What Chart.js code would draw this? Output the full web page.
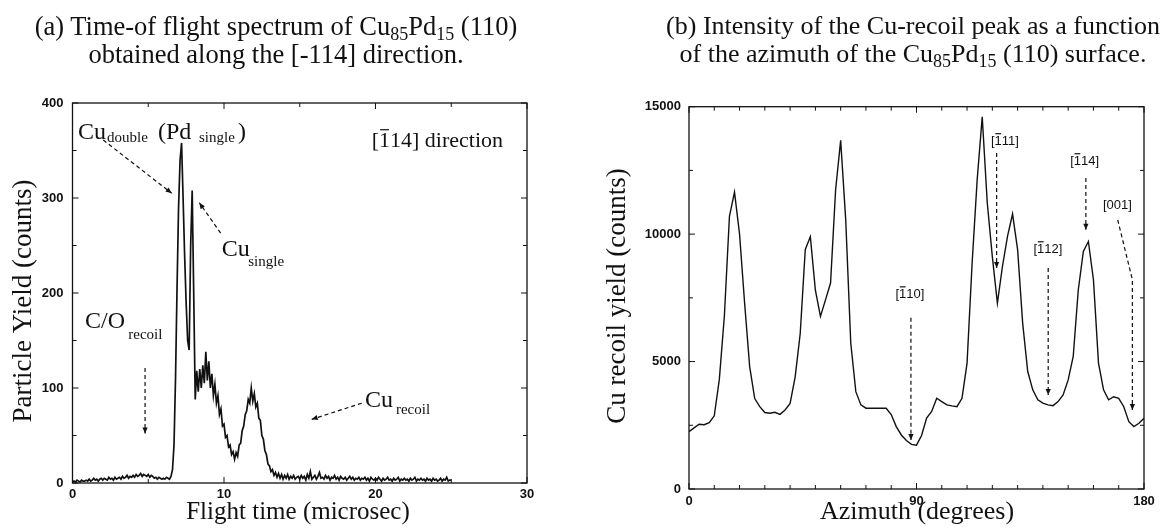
<!DOCTYPE html>
<html><head><meta charset="utf-8">
<script src="https://cdn.jsdelivr.net/npm/chart.js@4.4.0/dist/chart.umd.min.js"></script>
<style>
html,body{margin:0;padding:0;background:#fff;}
#wrap{position:relative;width:1173px;height:528px;overflow:hidden;background:#fff;}
canvas{position:absolute;top:0;}
.title{position:absolute;top:12px;font-family:"Liberation Serif",serif;font-size:26px;color:#111;text-align:center;white-space:nowrap;line-height:28px;}
.title sub{font-size:18px;vertical-align:-5px;line-height:0;}
</style></head>
<body><div id="wrap">
<canvas id="cA" width="580" height="528" style="left:0"></canvas>
<canvas id="cB" width="593" height="528" style="left:580px"></canvas>
<div class="title" style="left:0;width:552px;font-size:26.5px">(a) Time-of flight spectrum of Cu<sub>85</sub>Pd<sub>15</sub> (110)<br>obtained along the [-114] direction.</div>
<div class="title" style="left:613px;width:600px">(b) Intensity of the Cu-recoil peak as a function<br>of the azimuth of the Cu<sub>85</sub>Pd<sub>15</sub> (110) surface.</div>
</div>
<script>
// ---------- Panel (a): time-of-flight spectrum ----------
const flightStartUs = 0;
const flightStepUs = 0.1;
const particleCounts = [
  1,2,1,3,2,1,3,2,2,3,
  2,4,2,3,5,3,4,2,4,5,
  3,5,4,3,6,4,5,3,6,4,
  5,6,4,7,5,6,8,5,7,6,
  8,6,9,7,8,10,7,9,8,7,
  9,6,8,7,5,6,4,6,5,4,
  5,4,6,5,4,7,14,40,110,205,
  290,340,358,300,240,190,150,140,250,308,
  200,88,118,96,120,100,124,105,138,108,
  128,100,115,92,104,84,92,72,78,60,
  62,48,50,38,40,30,33,25,32,28,
  40,42,55,60,72,76,88,84,100,86,
  94,80,84,68,66,50,46,34,30,20,
  18,12,14,8,11,6,10,5,9,4,
  8,5,9,4,7,5,8,4,6,7,
  4,8,5,7,3,9,5,12,4,6,
  8,4,7,11,5,6,4,8,5,7,
  3,6,5,8,4,6,3,7,5,4,
  6,3,5,7,4,6,3,5,4,6,
  3,5,4,6,3,5,2,6,4,3,
  5,3,6,4,2,5,3,4,6,3,
  4,2,5,3,4,6,2,4,3,5,
  3,4,2,5,3,4,6,2,4,3,
  5,3,4,2,5,3,4,2,5,3,
  4,2,3,5,2,4,3,6,2,3,
  3
];
const flightTickLabels = [0, 10, 20, 30];
const countTickLabels = [0, 100, 200, 300, 400];

// ---------- Panel (b): azimuthal scan ----------
const azimuthDeg = [0,2,4,6,8,10,12,14,16,18,20,22,24,26,28,30,32,34,36,38,40,42,44,46,48,50,52,54,56,58,60,62,64,66,68,70,72,74,76,78,80,82,84,86,88,90,92,94,96,98,100,102,104,106,108,110,112,114,116,118,120,122,124,126,128,130,132,134,136,138,140,142,144,146,148,150,152,154,156,158,160,162,164,166,168,170,172,174,176,178,180];
const recoilYield = [2250,2400,2540,2520,2600,2870,4300,6800,10700,11650,10000,7300,4800,3550,3230,3000,2970,3010,2930,3100,3360,4400,6100,9400,9900,7800,6770,7420,8080,11740,13680,10560,5720,3820,3300,3170,3170,3170,3170,3170,2920,2450,2120,1900,1750,1720,2100,2780,3040,3560,3430,3300,3260,3230,3560,4940,8860,12130,14600,11220,9120,7290,8730,9910,10790,9390,6510,4610,3890,3500,3370,3300,3270,3430,3690,4280,5200,7810,9320,9710,8210,4940,3890,3500,3620,3560,3230,2640,2450,2580,2780];
const azimuthTickLabels = [0, 90, 180];
const yieldTickLabels = [0, 5000, 10000, 15000];

const ink = '#111';
const serif = '"Liberation Serif", "Times New Roman", serif';
const sans = '"Liberation Sans", Arial, sans-serif';

function P(chart, x, y){ return [chart.scales.x.getPixelForValue(x), chart.scales.y.getPixelForValue(y)]; }

function dashedArrow(ctx, pts){
  ctx.save();
  ctx.strokeStyle = ink; ctx.fillStyle = ink; ctx.lineWidth = 1.2; ctx.setLineDash([4,3]);
  ctx.beginPath(); ctx.moveTo(pts[0][0], pts[0][1]);
  for (let i = 1; i < pts.length; i++) ctx.lineTo(pts[i][0], pts[i][1]);
  ctx.stroke();
  ctx.setLineDash([]);
  const [x1,y1] = pts[pts.length-2], [x2,y2] = pts[pts.length-1];
  const a = Math.atan2(y2-y1, x2-x1), L = 6, W = 2.6;
  ctx.beginPath(); ctx.moveTo(x2, y2);
  ctx.lineTo(x2 - L*Math.cos(a) + W*Math.sin(a), y2 - L*Math.sin(a) - W*Math.cos(a));
  ctx.lineTo(x2 - L*Math.cos(a) - W*Math.sin(a), y2 - L*Math.sin(a) + W*Math.cos(a));
  ctx.closePath(); ctx.fill();
  ctx.restore();
}

function barText(ctx, pre, bar, post, x, y, align, font, barDy){
  ctx.save();
  ctx.font = font; ctx.fillStyle = ink; ctx.strokeStyle = ink; ctx.textBaseline = 'alphabetic'; ctx.textAlign = 'left';
  const w1 = ctx.measureText(pre).width, w2 = ctx.measureText(bar).width, w3 = ctx.measureText(post).width;
  const x0 = align === 'center' ? x - (w1+w2+w3)/2 : x;
  ctx.fillText(pre, x0, y); ctx.fillText(bar, x0+w1, y); ctx.fillText(post, x0+w1+w2, y);
  ctx.lineWidth = 1.2; ctx.beginPath();
  ctx.moveTo(x0 + w1 + w2*0.1, y + barDy); ctx.lineTo(x0 + w1 + w2*0.9, y + barDy); ctx.stroke();
  ctx.restore();
}

function frameAndTicks(chart, xMinor, xMajor, yMinor, yMajor){
  const ctx = chart.ctx, a = chart.chartArea, xs = chart.scales.x, ys = chart.scales.y;
  ctx.save();
  ctx.strokeStyle = ink; ctx.lineWidth = 1.3;
  ctx.strokeRect(a.left, a.top, a.right - a.left, a.bottom - a.top);
  ctx.lineWidth = 1;
  ctx.beginPath();
  for (let v = xs.min; v <= xs.max + 1e-9; v += xMinor){
    const p = xs.getPixelForValue(v);
    const len = Math.abs(v/xMajor - Math.round(v/xMajor)) < 1e-6 ? 6 : 4;
    ctx.moveTo(p, a.bottom); ctx.lineTo(p, a.bottom - len);
    ctx.moveTo(p, a.top); ctx.lineTo(p, a.top + len);
  }
  for (let v = ys.min; v <= ys.max + 1e-9; v += yMinor){
    const p = ys.getPixelForValue(v);
    const len = Math.abs(v/yMajor - Math.round(v/yMajor)) < 1e-6 ? 6 : 4;
    ctx.moveTo(a.left, p); ctx.lineTo(a.left + len, p);
    ctx.moveTo(a.right, p); ctx.lineTo(a.right - len, p);
  }
  ctx.stroke();
  ctx.restore();
}

function axisTitles(ctx, xText, xCx, xBase, xSize, yText, yCx, yCy, ySize){
  ctx.save();
  ctx.fillStyle = ink; ctx.textAlign = 'center';
  ctx.font = xSize + 'px ' + serif; ctx.textBaseline = 'alphabetic';
  ctx.fillText(xText, xCx, xBase);
  ctx.translate(yCx, yCy); ctx.rotate(-Math.PI/2);
  ctx.font = ySize + 'px ' + serif; ctx.textBaseline = 'middle';
  ctx.fillText(yText, 0, 0);
  ctx.restore();
}

// Annotation text placed in data coordinates (panel a)
const leftNotes = [
  {x:0.36, y:362, t:'Cu', s:24}, {x:2.28, y:359, t:'double', s:15},
  {x:5.64, y:362, t:'(Pd', s:24}, {x:8.35, y:359, t:'single', s:15}, {x:10.92, y:362, t:')', s:24},
  {x:9.85, y:239, t:'Cu', s:24}, {x:11.6, y:228, t:'single', s:15},
  {x:0.83, y:163, t:'C/O', s:24}, {x:3.68, y:152, t:'recoil', s:15},
  {x:19.3, y:80, t:'Cu', s:24}, {x:21.35, y:73, t:'recoil', s:15}
];
const leftArrows = [
  [[2.03,361],[6.55,305]],
  [[9.78,263],[8.37,295]],
  [[4.79,121],[4.79,52]],
  [[19.09,84],[15.79,67]]
];
// panel b
const rightLabels = [
  {x:87.4, y:7500, pre:'[', bar:'1', post:'10]'},
  {x:125, y:13509, pre:'[', bar:'1', post:'11]'},
  {x:156.5, y:12723, pre:'[', bar:'1', post:'14]'},
  {x:142, y:9268, pre:'[', bar:'1', post:'12]'},
  {x:169.5, y:10996, pre:'[001]', bar:'', post:''}
];
const rightArrows = [
  [[87.8,6715],[87.8,1925]],
  [[121.7,13180],[121.7,8670]],
  [[157,12200],[157,10170]],
  [[142.1,8670],[142.1,3690]],
  [[169.6,10560],[175.4,8210],[175.4,3100]]
];

const leftDecor = {
  id: 'leftDecor',
  afterDatasetsDraw(chart){
    const ctx = chart.ctx;
    frameAndTicks(chart, 5, 10, 50, 100);
    ctx.save(); ctx.fillStyle = ink; ctx.textAlign = 'left'; ctx.textBaseline = 'alphabetic';
    leftNotes.forEach(n => { const [px,py] = P(chart, n.x, n.y); ctx.font = n.s + 'px ' + serif; ctx.fillText(n.t, px, py); });
    ctx.restore();
    const [dx,dy] = P(chart, 19.75, 354);
    barText(ctx, '[', '1', '14] direction', dx, dy, 'left', '22px ' + serif, -17);
    leftArrows.forEach(a => dashedArrow(ctx, a.map(p => P(chart, p[0], p[1]))));
    axisTitles(ctx, 'Flight time (microsec)', 298, 519, 25, 'Particle Yield (counts)', 24, 301, 27);
  }
};

const rightDecor = {
  id: 'rightDecor',
  afterDatasetsDraw(chart){
    const ctx = chart.ctx;
    frameAndTicks(chart, 10, 90, 2500, 5000);
    rightLabels.forEach(l => {
      const [px,py] = P(chart, l.x, l.y);
      if (l.bar) barText(ctx, l.pre, l.bar, l.post, px, py, 'center', '13px ' + sans, -11);
      else { ctx.save(); ctx.font = '13px ' + sans; ctx.fillStyle = ink; ctx.textAlign = 'center'; ctx.fillText(l.pre, px, py); ctx.restore(); }
    });
    rightArrows.forEach(a => dashedArrow(ctx, a.map(p => P(chart, p[0], p[1]))));
    axisTitles(ctx, 'Azimuth (degrees)', 337, 519, 26, 'Cu recoil yield (counts)', 37.5, 296, 27);
  }
};

const tickFont = { family: '"Liberation Sans", Arial, sans-serif', size: 13, weight: 'bold' };
const plainTick = v => String(v);

new Chart(document.getElementById('cA'), {
  type: 'line',
  data: { datasets: [{
    data: particleCounts.map((c, i) => ({ x: flightStartUs + i*flightStepUs, y: c })),
    borderColor: ink, borderWidth: 1.7, pointRadius: 0, tension: 0, fill: false
  }]},
  options: {
    responsive: false, animation: false, events: [],
    layout: { padding: { left: 0, right: 53, top: 103, bottom: 0 } },
    plugins: { legend: { display: false }, tooltip: { enabled: false } },
    scales: {
      x: { type: 'linear', min: 0, max: 30,
        afterFit(s){ s.height = 45; },
        afterBuildTicks(s){ s.ticks = flightTickLabels.map(v => ({ value: v })); },
        grid: { display: false, drawTicks: false }, border: { display: false },
        ticks: { font: tickFont, color: ink, padding: 4, maxRotation: 0, callback: plainTick } },
      y: { min: 0, max: 400,
        afterFit(s){ s.width = 72.5; },
        afterBuildTicks(s){ s.ticks = countTickLabels.map(v => ({ value: v })); },
        grid: { display: false, drawTicks: false }, border: { display: false },
        ticks: { font: tickFont, color: ink, padding: 9, callback: plainTick } }
    }
  },
  plugins: [leftDecor]
});

new Chart(document.getElementById('cB'), {
  type: 'line',
  data: { datasets: [{
    data: azimuthDeg.map((d, i) => ({ x: d, y: recoilYield[i] })),
    borderColor: ink, borderWidth: 1.4, pointRadius: 0, tension: 0, fill: false
  }]},
  options: {
    responsive: false, animation: false, events: [],
    layout: { padding: { left: 0, right: 29, top: 106.7, bottom: 0 } },
    plugins: { legend: { display: false }, tooltip: { enabled: false } },
    scales: {
      x: { type: 'linear', min: 0, max: 180,
        afterFit(s){ s.height = 39; },
        afterBuildTicks(s){ s.ticks = azimuthTickLabels.map(v => ({ value: v })); },
        grid: { display: false, drawTicks: false }, border: { display: false },
        ticks: { font: tickFont, color: ink, padding: 5, maxRotation: 0, callback: plainTick } },
      y: { min: 0, max: 15000,
        afterFit(s){ s.width = 109; },
        afterBuildTicks(s){ s.ticks = yieldTickLabels.map(v => ({ value: v })); },
        grid: { display: false, drawTicks: false }, border: { display: false },
        ticks: { font: tickFont, color: ink, padding: 8, callback: plainTick } }
    }
  },
  plugins: [rightDecor]
});
</script>
</body></html>
